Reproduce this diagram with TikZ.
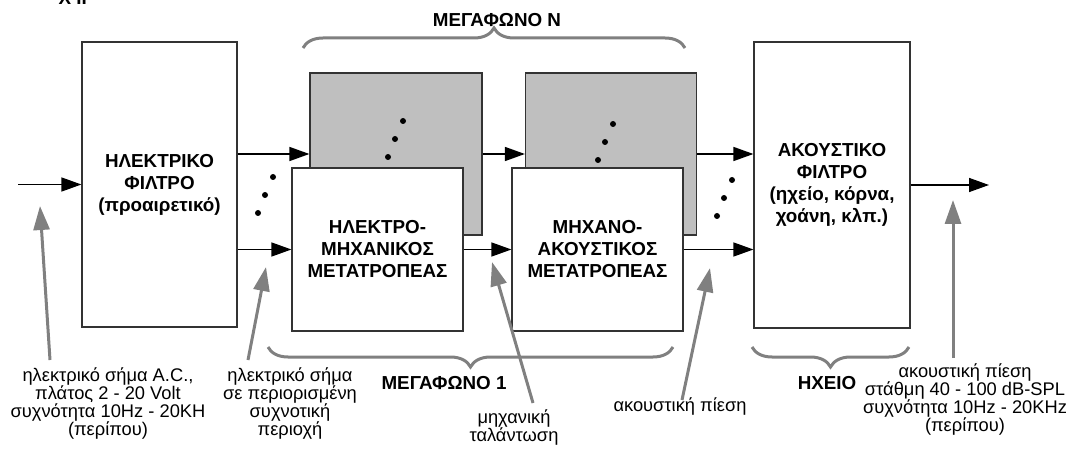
\documentclass[tikz,border=0pt]{standalone}
\usepackage{fontspec}
\setmainfont{Liberation Sans}
\usetikzlibrary{arrows.meta, decorations.pathreplacing}

\begin{document}
\begin{tikzpicture}[
    x=1pt, y=-1pt,
    block/.style={rectangle, draw=black!80, line width=1.2pt, fill=white, inner sep=0pt, align=center, font=\fontsize{18.8}{22}\selectfont\bfseries},
    backblock/.style={block, fill=black!25},
    signal/.style={line width=1.5pt, -{Triangle[length=20pt,width=14pt]}},
    pointer/.style={line width=3pt, draw=black!50, -{Triangle[length=24pt,width=16pt]}},
    note/.style={align=center, font=\fontsize{18.3}{18}\selectfont},
    title/.style={font=\fontsize{18.8}{21}\selectfont\bfseries},
    span/.style={decorate, decoration={brace, amplitude=20pt}, line width=3pt, draw=black!50}
]
    \useasboundingbox (0,0) rectangle (1073,454);

    % Figure tag (cut at the top edge)
    \node[title, anchor=base west] (tag) at (55,5) {Χ ΙΙ};

    % Filters
    \node[block, minimum width=155pt, minimum height=285pt] (elfilter) at (159.5,184.5) {ΗΛΕΚΤΡΙΚΟ\\ΦΙΛΤΡΟ\\(προαιρετικό)};
    \node[block, minimum width=156pt, minimum height=286pt] (acfilter) at (832,185) {ΑΚΟΥΣΤΙΚΟ\\ΦΙΛΤΡΟ\\(ηχείο, κόρνα,\\χοάνη, κλπ.)};

    % Transducers of loudspeaker N (behind)
    \node[backblock, minimum width=172pt, minimum height=162pt] (elmechN) at (396,154) {};
    \node[backblock, minimum width=171pt, minimum height=162pt] (mechacN) at (611,154) {};

    % Transducers of loudspeaker 1 (front)
    \node[block, minimum width=171pt, minimum height=163pt] (elmech) at (377.5,249.5) {ΗΛΕΚΤΡΟ-\\ΜΗΧΑΝΙΚΟΣ\\ΜΕΤΑΤΡΟΠΕΑΣ};
    \node[block, minimum width=171pt, minimum height=163pt] (mechac) at (597.5,249.5) {ΜΗΧΑΝΟ-\\ΑΚΟΥΣΤΙΚΟΣ\\ΜΕΤΑΤΡΟΠΕΑΣ};

    % Signal path
    \coordinate (input) at (18,184.5);
    \coordinate (output) at (989,185);
    \draw[signal] (input) -- (elfilter.west);
    \draw[signal] (elfilter.east |- elmechN.west) -- (elmechN.west);
    \draw[signal] (elfilter.east |- elmech.west) -- (elmech.west);
    \draw[signal] (elmechN.east) -- (mechacN.west);
    \draw[signal] (elmech.east) -- (mechac.west);
    \draw[signal] (mechacN.east) -- (acfilter.west |- mechacN.east);
    \draw[signal] (mechac.east) -- (acfilter.west |- mechac.east);
    \draw[signal] (acfilter.east |- output) -- (output);

    % Dots for the loudspeakers in between
    \foreach \x/\y in {388/157, 258/213, 598/160, 717/216}
        \foreach \dx/\dy in {0/0, 7/-18, 15/-36}
            \fill (\x+\dx,\y+\dy) circle (3pt);

    % Braces
    \draw[span] (303,48) -- (685,48);
    \node[title] (speakerN) at (497,20) {ΜΕΓΑΦΩΝΟ Ν};
    \draw[span] (673,347) -- (268,347);
    \node[title] (speaker1) at (444,383) {ΜΕΓΑΦΩΝΟ 1};
    \draw[span] (909,347) -- (752,347);
    \node[title] (cabinet) at (827,383) {ΗΧΕΙΟ};

    % Notes
    \node[note] (noteIn) at (108,404) {ηλεκτρικό σήμα A.C.,\\πλάτος 2 - 20 Volt\\συχνότητα 10Hz - 20KH\\(περίπου)};
    \node[note] (noteBand) at (290,404) {ηλεκτρικό σήμα\\σε περιορισμένη\\συχνοτική\\περιοχή};
    \node[note] (noteMech) at (514,427) {μηχανική\\ταλάντωση};
    \node[note] (notePress) at (680,406) {ακουστική πίεση};
    \node[note] (noteOut) at (965,400) {ακουστική πίεση\\στάθμη 40 - 100 dB-SPL\\συχνότητα 10Hz - 20KHz\\(περίπου)};

    % Pointers
    \coordinate (tailIn) at (50,360);    \coordinate (tipIn) at (40,206);
    \coordinate (tailBand) at (248,360); \coordinate (tipBand) at (266,267);
    \coordinate (tailMech) at (533,403); \coordinate (tipMech) at (492,262);
    \coordinate (tailPress) at (682,400); \coordinate (tipPress) at (710,268);
    \coordinate (tailOut) at (953,358);  \coordinate (tipOut) at (953,200);
    \draw[pointer] (tailIn) -- (tipIn);
    \draw[pointer] (tailBand) -- (tipBand);
    \draw[pointer] (tailMech) -- (tipMech);
    \draw[pointer] (tailPress) -- (tipPress);
    \draw[pointer] (tailOut) -- (tipOut);

\end{tikzpicture}
\end{document}
